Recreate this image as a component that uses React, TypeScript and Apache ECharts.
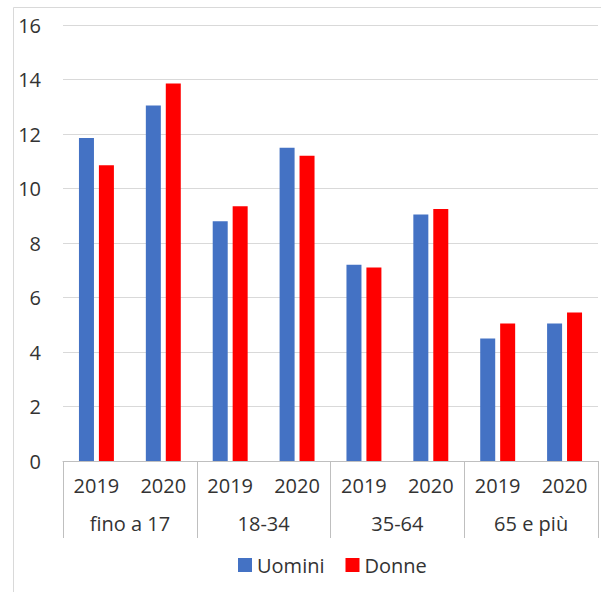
import React, { useEffect, useRef } from "react";
import * as echarts from "echarts";

const years = ["2019", "2020", "2019", "2020", "2019", "2020", "2019", "2020"];
const groups = ["fino a 17", "18-34", "35-64", "65 e più"];
const uomini = [11.85, 13.05, 8.8, 11.5, 7.2, 9.05, 4.5, 5.05];
const donne = [10.85, 13.85, 9.35, 11.2, 7.1, 9.25, 5.05, 5.45];
const yTicks = [0, 2, 4, 6, 8, 10, 12, 14, 16];

const FONT = "Open Sans";
const TEXT = "#333333";

export default function App() {
  const ref = useRef<HTMLDivElement>(null);
  useEffect(() => {
    if (!ref.current) return;
    const chart = echarts.init(ref.current, null, { renderer: "svg" });
    chart.setOption({
      animation: false,
      backgroundColor: "#ffffff",
      textStyle: { fontFamily: FONT },
      graphic: [
        {
          type: "rect",
          shape: { x: 13.5, y: 7.5, width: 620, height: 620 },
          style: { fill: "none", stroke: "#d9d9d9", lineWidth: 1 },
          silent: true,
        },
      ],
      legend: {
        data: ["Uomini", "Donne"],
        left: 233,
        top: 550,
        itemWidth: 14,
        itemHeight: 14,
        itemGap: 21,
        icon: "rect",
        textStyle: { fontFamily: FONT, fontSize: 20, color: TEXT, padding: [0, 0, 0, 0] },
      },
      grid: { left: 63, right: 3, top: 25, bottom: 131 },
      xAxis: [
        {
          type: "category",
          data: years,
          position: "bottom",
          axisLine: { show: true, lineStyle: { color: "#bfbfbf", width: 1 } },
          axisTick: { show: false },
          axisLabel: { fontFamily: FONT, fontSize: 20, color: TEXT, margin: 14, interval: 0 },
        },
        {
          type: "category",
          data: groups,
          position: "bottom",
          axisLine: { show: false },
          axisTick: { show: true, length: 77, lineStyle: { color: "#bfbfbf", width: 1 } },
          axisLabel: { fontFamily: FONT, fontSize: 20, color: TEXT, margin: 52, interval: 0 },
        },
      ],
      yAxis: {
        type: "value",
        min: 0,
        max: 16,
        interval: 2,
        axisLine: { show: false },
        axisTick: { show: false },
        splitLine: { lineStyle: { color: "#d9d9d9", width: 1 } },
        axisLabel: {
          fontFamily: FONT,
          fontSize: 20,
          color: TEXT,
          margin: 22,
          formatter: (v: number) => (yTicks.includes(v) ? String(v) : ""),
        },
      },
      series: [
        {
          name: "Uomini",
          type: "bar",
          xAxisIndex: 0,
          data: uomini,
          barWidth: 15,
          barGap: "33%",
          itemStyle: { color: "#4472C4" },
        },
        {
          name: "Donne",
          type: "bar",
          xAxisIndex: 0,
          data: donne,
          barWidth: 15,
          barGap: "33%",
          itemStyle: { color: "#FF0000" },
        },
      ],
    });
    return () => chart.dispose();
  }, []);
  return (
    <div
      ref={ref}
      style={{ position: "fixed", left: 0, top: 0, width: 601, height: 592 }}
    />
  );
}
